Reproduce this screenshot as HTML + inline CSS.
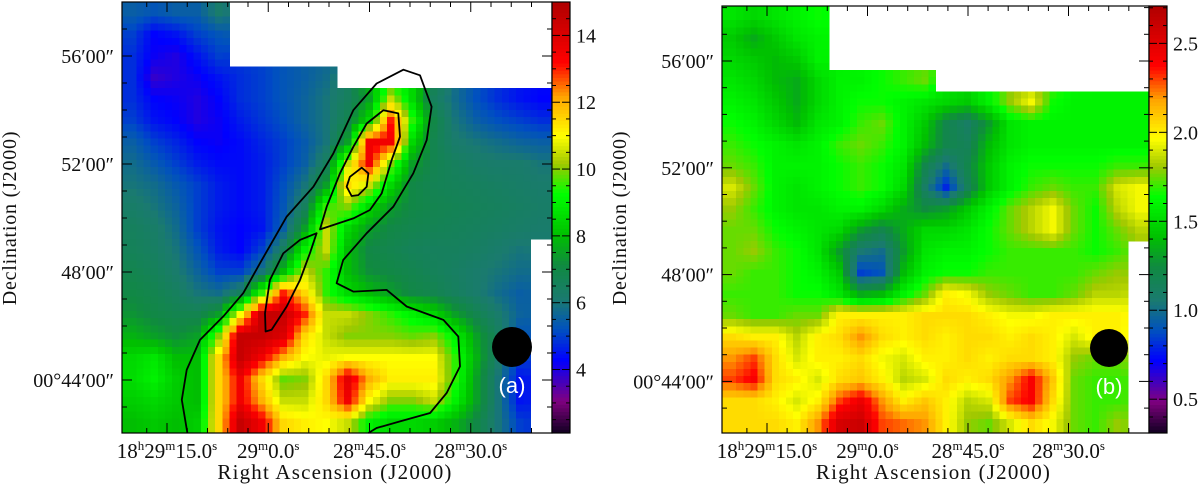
<!DOCTYPE html>
<html><head><meta charset="utf-8"><style>
html,body{margin:0;padding:0;background:#fff;}
svg{display:block;font-family:"Liberation Serif",serif;}
</style></head><body>
<svg id="fig" width="1200" height="488" viewBox="0 0 1200 488"></svg>
<script>
// ---------- DATA ----------
const N = null;
const leftGrid = [
[5.5,5.3,5.5,5.5,6.2,N,N,N,N,N,N,N,N,N,N,N,N,N,N,N],
[5.0,4.3,4.5,5.0,5.3,N,N,N,N,N,N,N,N,N,N,N,N,N,N,N],
[4.8,4.2,4.0,4.5,5.0,N,N,N,N,N,N,N,N,N,N,N,N,N,N,N],
[4.8,3.8,4.0,4.2,4.5,4.8,5.0,5.3,5.5,5.8,N,N,N,N,N,N,N,N,N,N],
[4.8,4.3,4.2,4.0,4.3,4.8,5.0,5.3,5.6,6.0,6.5,7.5,10.5,8.5,6.5,5.8,5.2,4.8,4.5,4.3],
[5.0,4.5,4.3,4.0,4.2,4.6,4.9,5.2,5.6,6.0,6.8,8.5,13.0,9.5,7.0,6.0,5.5,5.2,5.0,4.8],
[5.5,5.0,4.7,4.3,4.2,4.4,4.7,5.0,5.4,6.0,7.5,13.5,13.5,8.5,6.8,6.2,6.0,5.8,5.6,5.5],
[5.8,5.4,5.0,4.6,4.4,4.4,4.6,5.0,5.5,6.5,10.5,13.5,10.0,7.5,6.8,6.5,6.3,6.2,6.2,6.0],
[6.0,5.8,5.4,5.0,4.6,4.4,4.6,5.2,6.0,7.5,11.5,10.5,8.5,7.0,6.7,6.6,6.5,6.4,6.3,6.2],
[6.3,6.0,5.6,5.0,4.6,4.4,4.6,5.3,6.5,9.5,10.0,8.5,7.5,7.0,6.8,6.7,6.6,6.5,6.4,6.3],
[6.5,6.3,5.8,5.0,4.5,4.3,4.5,5.5,7.5,10.5,8.5,7.5,7.0,6.8,6.7,6.6,6.5,6.4,6.3,6.2],
[6.6,6.4,6.0,5.3,4.6,4.3,5.0,6.5,9.0,10.5,8.0,7.0,6.8,6.6,6.5,6.5,6.4,6.2,6.0,N],
[6.8,6.6,6.2,5.6,5.0,5.0,6.0,8.0,10.5,9.5,8.0,7.2,7.0,6.8,6.6,6.4,6.2,6.0,5.8,N],
[7.0,6.8,6.5,6.0,5.8,6.5,9.5,13.0,11.5,9.5,8.5,8.0,7.5,7.0,6.8,6.5,6.2,5.8,5.5,N],
[7.3,7.0,6.8,6.8,7.5,11.0,14.5,14.5,13.0,10.5,10.5,10.0,9.5,9.0,8.5,7.5,6.8,6.2,5.6,N],
[7.8,7.5,7.2,7.5,10.0,14.5,14.5,14.0,11.5,10.5,10.0,10.0,10.0,9.8,10.0,9.0,7.5,6.5,5.3,N],
[8.5,8.8,8.0,8.0,11.5,14.5,13.5,12.0,11.0,10.8,11.0,11.0,11.0,11.0,11.0,9.5,7.8,6.2,5.0,N],
[8.6,9.0,8.3,8.0,11.5,13.5,11.5,9.8,10.0,11.5,13.8,12.0,11.2,11.2,11.2,9.5,7.5,6.0,4.5,N],
[8.3,8.5,8.2,8.0,11.5,13.5,12.0,10.5,10.5,11.5,13.5,11.0,10.0,10.0,10.5,9.0,7.5,6.0,4.5,N],
[8.0,8.2,8.0,8.3,11.5,14.5,13.5,11.5,11.2,11.0,10.5,9.0,8.5,8.5,8.3,7.8,7.0,6.0,5.0,N]
];
const rightGrid = [
[1.55,1.5,1.55,1.6,1.65,N,N,N,N,N,N,N,N,N,N,N,N,N,N,N],
[1.45,1.35,1.45,1.55,1.6,N,N,N,N,N,N,N,N,N,N,N,N,N,N,N],
[1.5,1.45,1.4,1.45,1.6,N,N,N,N,N,N,N,N,N,N,N,N,N,N,N],
[1.55,1.5,1.4,1.35,1.5,1.6,1.6,1.65,1.7,1.75,N,N,N,N,N,N,N,N,N,N],
[1.6,1.55,1.45,1.35,1.5,1.6,1.65,1.65,1.6,1.55,1.5,1.45,1.6,1.8,1.95,1.65,1.6,1.6,1.6,1.6],
[1.65,1.6,1.5,1.4,1.55,1.6,1.7,1.75,1.6,1.45,1.2,1.1,1.3,1.55,1.6,1.6,1.6,1.6,1.6,1.6],
[1.7,1.65,1.6,1.55,1.6,1.7,1.75,1.7,1.6,1.4,1.2,1.15,1.4,1.55,1.6,1.6,1.6,1.6,1.6,1.6],
[1.75,1.7,1.6,1.6,1.6,1.65,1.7,1.65,1.55,1.2,1.0,1.2,1.45,1.6,1.65,1.65,1.65,1.65,1.7,1.7],
[1.9,1.75,1.6,1.55,1.6,1.65,1.7,1.65,1.5,1.1,0.8,1.15,1.45,1.6,1.7,1.75,1.7,1.7,1.9,1.95],
[1.8,1.7,1.6,1.55,1.55,1.6,1.6,1.5,1.35,1.25,1.3,1.45,1.6,1.75,1.85,1.95,1.75,1.65,1.85,1.95],
[1.75,1.75,1.65,1.6,1.55,1.5,1.3,1.2,1.35,1.5,1.5,1.55,1.65,1.75,1.85,1.95,1.75,1.65,1.75,1.85],
[1.75,1.8,1.7,1.65,1.55,1.3,1.05,1.0,1.3,1.55,1.6,1.6,1.65,1.7,1.7,1.7,1.7,1.65,1.7,N],
[1.75,1.7,1.7,1.65,1.6,1.45,0.85,0.9,1.4,1.6,1.65,1.65,1.7,1.7,1.7,1.7,1.7,1.75,1.8,N],
[1.7,1.7,1.7,1.65,1.65,1.55,1.35,1.4,1.6,1.75,2.0,1.95,1.8,1.75,1.7,1.7,1.75,1.85,1.85,N],
[1.75,1.7,1.7,1.75,1.75,2.0,2.0,2.0,2.0,2.05,2.05,2.05,2.0,1.95,1.95,2.0,2.0,2.0,2.0,N],
[2.05,2.0,2.0,1.85,2.0,2.05,2.2,2.05,2.0,2.05,2.0,2.05,2.05,2.0,2.05,2.0,1.9,2.0,2.0,N],
[2.2,2.3,2.05,1.9,2.0,2.0,2.05,1.95,1.9,2.0,2.0,2.05,2.0,2.05,2.05,2.0,1.8,1.75,1.75,N],
[2.3,2.4,2.05,2.0,1.9,2.05,2.1,2.0,1.85,1.9,2.05,2.0,2.05,2.2,2.4,2.1,1.75,1.7,1.7,N],
[2.05,2.05,2.0,1.9,2.0,2.3,2.45,2.2,2.0,2.1,2.0,1.85,1.9,2.3,2.4,2.05,1.75,1.7,1.7,N],
[2.05,2.05,2.05,2.0,2.2,2.55,2.6,2.3,2.25,2.2,2.0,1.8,1.75,1.9,2.05,1.95,1.75,1.7,1.8,N]
];
const leftRange = [2.1, 15.0];
const rightRange = [0.31, 2.71];
const leftCbarTicks = [4, 6, 8, 10, 12, 14];
const leftCbarLabels = ["4", "6", "8", "10", "12", "14"];
const rightCbarTicks = [0.5, 1.0, 1.5, 2.0, 2.5];
const rightCbarLabels = ["0.5", "1.0", "1.5", "2.0", "2.5"];
const raTicks = [0, 15, 30, 45];
const raLabels = [["18","h","29","m","15.0","s"],["29","m","0.0","s"],["28","m","45.0","s"],["28","m","30.0","s"]];
const decTicks = [56, 52, 48, 44];
const decLabels = ["56\u203200\u2033","52\u203200\u2033","48\u203200\u2033","00\u00b044\u203200\u2033"];
const contourOuter = [[3.04,20.0],[2.78,18.46],[3.01,17.07],[3.63,15.68],[4.71,14.59],[5.64,13.51],[6.42,12.12],[7.66,9.96],[8.90,8.57],[9.83,7.03],[10.76,5.02],[11.84,3.78],[13.09,3.14],[13.86,3.40],[14.40,4.86],[14.17,6.41],[13.55,7.95],[12.62,9.50],[11.38,10.73],[10.29,11.97],[9.98,13.05],[10.76,13.44],[12.31,13.36],[13.24,14.13],[14.95,14.75],[15.64,15.52],[15.72,16.91],[15.10,18.15],[14.33,19.07],[12.93,19.46],[11.84,19.77],[11.46,20.0]];
const contourMid = [[9.21,10.55],[9.52,9.50],[10.14,7.95],[10.76,6.72],[11.38,5.64],[12.16,5.02],[12.85,5.17],[12.93,6.25],[12.54,7.34],[12.08,8.88],[11.53,9.65],[10.76,10.04],[9.83,10.35]];
const contourSmall = [[10.45,8.57],[10.60,8.11],[11.15,7.69],[11.46,7.95],[11.38,8.57],[10.99,8.96],[10.68,9.00]];
const contourLower = [[9.05,10.73],[8.74,11.66],[8.28,12.90],[7.66,14.13],[6.96,15.21],[6.68,15.29],[6.65,14.44],[6.88,12.90],[7.50,11.66],[8.28,11.04]];

// ---------- RENDER ----------
const NS = "http://www.w3.org/2000/svg";
const svg = document.getElementById('fig');
function mk(tag, attrs, parent) {
  const e = document.createElementNS(NS, tag);
  for (const k in attrs) e.setAttribute(k, attrs[k]);
  (parent || svg).appendChild(e);
  return e;
}
const cmapStops = [[0,"#100020"],[0.075,"#800080"],[0.17,"#0000ff"],[0.24,"#0050c0"],[0.31,"#1a7a70"],[0.39,"#108a40"],[0.46,"#00c000"],[0.555,"#00ff00"],[0.625,"#a0c800"],[0.69,"#ffff00"],[0.78,"#ffa500"],[0.86,"#ff0000"],[1,"#b00000"]];
function hex(h){return [parseInt(h.substr(1,2),16),parseInt(h.substr(3,2),16),parseInt(h.substr(5,2),16)];}
function cmap(f){
  f = Math.max(0, Math.min(1, f));
  for (let i = 1; i < cmapStops.length; i++) {
    if (f <= cmapStops[i][0]) {
      const a = cmapStops[i-1], b = cmapStops[i];
      const t = (f - a[0]) / (b[0] - a[0]);
      const ca = hex(a[1]), cb = hex(b[1]);
      return "rgb(" + ca.map((v,j)=>Math.round(v + (cb[j]-v)*t)).join(",") + ")";
    }
  }
  return cmapStops[cmapStops.length-1][1];
}
function cellVal(grid, r, c) {
  const R = grid.length, C = grid[0].length;
  r = Math.max(0, Math.min(R - 1, r)); c = Math.max(0, Math.min(C - 1, c));
  let v = grid[r][c];
  if (v !== null) return v;
  let s = 0, n = 0;
  for (let dr = -1; dr <= 1; dr++) for (let dc = -1; dc <= 1; dc++) {
    const rr = r + dr, cc = c + dc;
    if (rr >= 0 && rr < R && cc >= 0 && cc < C && grid[rr][cc] !== null) { s += grid[rr][cc]; n++; }
  }
  return n ? s / n : 0;
}
function bilinear(grid, gy, gx) {
  const y = gy - 0.5, x = gx - 0.5;
  const r0 = Math.floor(y), c0 = Math.floor(x), ty = y - r0, tx = x - c0;
  const a = cellVal(grid, r0, c0), b = cellVal(grid, r0, c0 + 1), c = cellVal(grid, r0 + 1, c0), d = cellVal(grid, r0 + 1, c0 + 1);
  return (a * (1 - tx) + b * tx) * (1 - ty) + (c * (1 - tx) + d * tx) * ty;
}

function panel(cfg) {
  const g = mk('g', {});
  
  
  const rows = cfg.grid.length, cols = cfg.grid[0].length;
  const cw = cfg.w / cols, ch = cfg.h / rows;
  const xCell = c => cfg.x + c * cw;
  const yCell = r => cfg.y + r * ch;
  const norm = v => (v - cfg.range[0]) / (cfg.range[1] - cfg.range[0]);
  const hm = mk('g', {'shape-rendering': 'crispEdges'}, g);
  
  
  const S = 3;
  cfg.grid.forEach((row, r) => row.forEach((v, c) => {
    if (v === null) return;
    for (let i = 0; i < S; i++) for (let j = 0; j < S; j++) {
      const gy = r + (i + 0.5) / S, gx = c + (j + 0.5) / S;
      const val = bilinear(cfg.grid, gy, gx);
      const rc = mk('rect', {x: xCell(c + j / S).toFixed(2), y: yCell(r + i / S).toFixed(2), width: (cw / S + 0.6).toFixed(2), height: (ch / S + 0.6).toFixed(2), fill: cmap(norm(val))}, hm);
      
      
    }
  }));
  (cfg.contours || []).forEach((pts, i) => {
    const d = pts.map((p, k) => (k ? 'L' : 'M') + xCell(p[0]).toFixed(1) + ' ' + yCell(p[1]).toFixed(1)).join(' ') + (cfg.closed[i] ? ' Z' : '');
    const p = mk('path', {d: d, fill: 'none', stroke: '#000', 'stroke-width': 1.8, 'stroke-linejoin': 'round'}, g);
    
    
  });
  const beam = mk('circle', {cx: cfg.beam[0], cy: cfg.beam[1], r: cfg.beam[2], fill: '#000'}, g);
  
  
  const lab = mk('text', {x: cfg.beam[0], y: cfg.beam[1] + 46, 'text-anchor': 'middle', fill: '#fff', 'font-size': 22, 'font-family': '"Liberation Sans",sans-serif'}, g);
  lab.textContent = cfg.tag;
  
  
  const fr = mk('rect', {x: cfg.x, y: cfg.y, width: cfg.w, height: cfg.h, fill: 'none', stroke: '#000', 'stroke-width': 1.2}, g);
  
  
  const xs = s => cfg.ra0 + s * cfg.raPx;
  const tk = mk('g', {stroke: '#000', 'stroke-width': 1}, g);
  
  
  for (let s = -3; s <= 60; s += 3) {
    const x = xs(s);
    if (x < cfg.x + 1 || x > cfg.x + cfg.w - 1) continue;
    const L = (s % 15 === 0) ? 10 : 5;
    mk('line', {x1: x, y1: cfg.y + cfg.h, x2: x, y2: cfg.y + cfg.h - L}, tk);
    mk('line', {x1: x, y1: cfg.y, x2: x, y2: cfg.y + L}, tk);
  }
  const ys = m => cfg.dec0 + (56 - m) * cfg.decPx;
  for (let m = 58; m >= 42; m -= 1) {
    const y = ys(m);
    if (y < cfg.y + 1 || y > cfg.y + cfg.h - 1) continue;
    const L = (m % 4 === 0) ? 10 : 5;
    mk('line', {x1: cfg.x, y1: y, x2: cfg.x + L, y2: y}, tk);
    mk('line', {x1: cfg.x + cfg.w, y1: y, x2: cfg.x + cfg.w - L, y2: y}, tk);
  }
  raTicks.forEach((s, i) => {
    const t = mk('text', {x: xs(s), y: cfg.y + cfg.h + 25, 'text-anchor': 'middle', 'font-size': 21, fill: '#111'}, g);
    
    
    const parts = raLabels[i];
    for (let k = 0; k < parts.length; k += 2) {
      const a = mk('tspan', k ? {dy: 8} : {}, t); a.textContent = parts[k];
      const b = mk('tspan', {'font-size': 13, dy: -8}, t); b.textContent = parts[k+1];
    }
  });
  decTicks.forEach((m, i) => {
    const t = mk('text', {x: cfg.x - 8, y: ys(m) + 7, 'text-anchor': 'end', 'font-size': 20, fill: '#111'}, g);
    t.textContent = decLabels[i];
    
    
  });
  const xt = mk('text', {x: cfg.x + cfg.w / 2 - 2, y: 479, 'text-anchor': 'middle', 'font-size': 21, fill: '#111', 'letter-spacing': 1.2}, g);
  xt.textContent = 'Right Ascension (J2000)';
  
  
  const yt = mk('text', {x: 0, y: 0, 'text-anchor': 'middle', 'font-size': 20, fill: '#111', transform: 'translate(' + cfg.yTitleX + ',' + 218 + ') rotate(-90)', 'letter-spacing': 0.8}, g);
  yt.textContent = 'Declination (J2000)';
  
  
  const cb = mk('g', {}, g);
  
  
  const steps = 120, sh = cfg.h / steps;
  for (let i = 0; i < steps; i++) {
    mk('rect', {x: cfg.cbx, y: (cfg.y + cfg.h - (i + 1) * sh).toFixed(2), width: cfg.cbw, height: (sh + 0.5).toFixed(2), fill: cmap((i + 0.5) / steps)}, cb);
  }
  mk('rect', {x: cfg.cbx, y: cfg.y, width: cfg.cbw, height: cfg.h, fill: 'none', stroke: '#000', 'stroke-width': 1.2}, cb);
  const vy = v => cfg.y + cfg.h - norm(v) * cfg.h;
  const minor = cfg.cbMinor;
  for (let v = Math.ceil(cfg.range[0] / minor) * minor; v <= cfg.range[1]; v += minor) {
    const y = vy(v);
    const isMaj = cfg.cbTicks.some(t => Math.abs(t - v) < 1e-6);
    mk('line', {x1: cfg.cbx, y1: y, x2: cfg.cbx + (isMaj ? 8 : 4), y2: y, stroke: '#000'}, cb);
    mk('line', {x1: cfg.cbx + cfg.cbw, y1: y, x2: cfg.cbx + cfg.cbw - (isMaj ? 8 : 4), y2: y, stroke: '#000'}, cb);
  }
  cfg.cbTicks.forEach((v, i) => {
    const t = mk('text', {x: cfg.cbx + cfg.cbw + 6, y: vy(v) + 7, 'font-size': 20, fill: '#111'}, cb);
    t.textContent = cfg.cbLabels[i];
    
    
  });
}

panel({name: 'panel-a', grid: leftGrid, range: leftRange, x: 122, y: 2, w: 430, h: 431,
  ra0: 167, raPx: 6.75, dec0: 56, decPx: 27, yTitleX: 16,
  contours: [contourOuter, contourMid, contourSmall, contourLower], closed: [false, true, true, true],
  beam: [512, 347, 20], tag: '(a)', cbx: 552, cbw: 18, cbTicks: leftCbarTicks, cbLabels: leftCbarLabels, cbMinor: 0.5});
panel({name: 'panel-b', grid: rightGrid, range: rightRange, x: 722, y: 6, w: 427, h: 427,
  ra0: 767, raPx: 6.7, dec0: 61, decPx: 26.7, yTitleX: 626,
  contours: [], closed: [],
  beam: [1109, 348, 19], tag: '(b)', cbx: 1149, cbw: 18, cbTicks: rightCbarTicks, cbLabels: rightCbarLabels, cbMinor: 0.1});
</script>
</body></html>
